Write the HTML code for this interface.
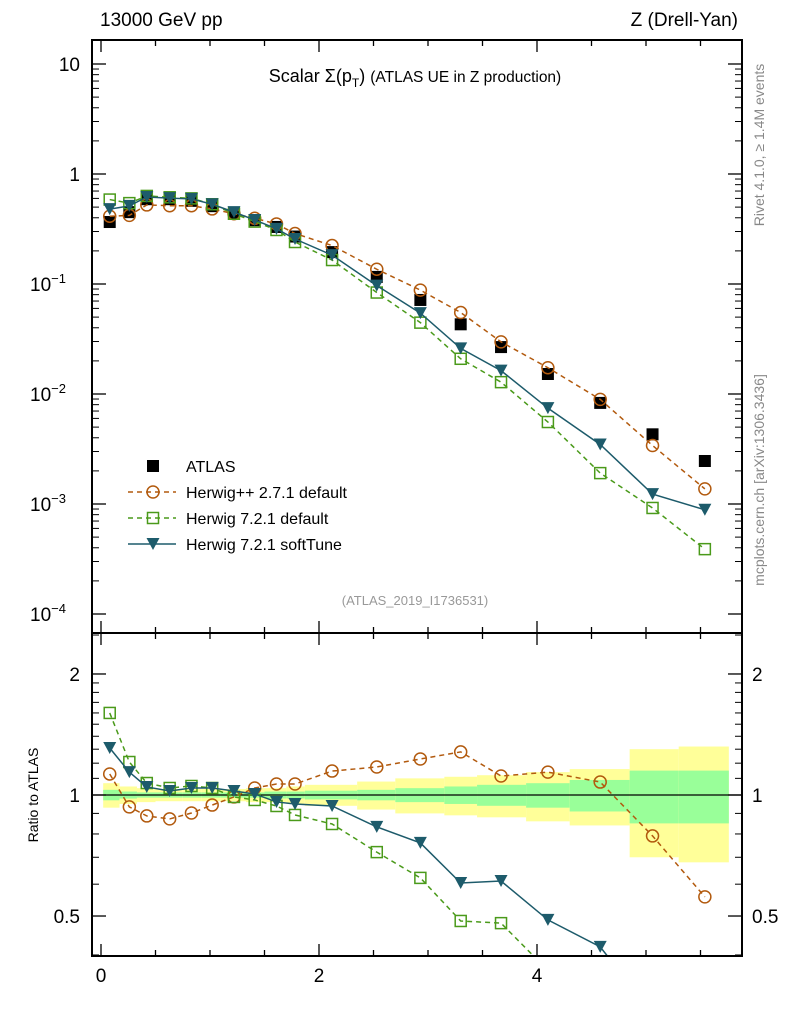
<!DOCTYPE html>
<html><head><meta charset="utf-8"><style>
html,body{margin:0;padding:0;background:#fff;overflow:hidden;width:786px;height:1024px;}
svg{display:block;}
svg text{font-family:"Liberation Sans",sans-serif;}
</style></head><body>
<svg id="c" width="786" height="1024" xmlns="http://www.w3.org/2000/svg">
<text x="100" y="26" font-size="19">13000 GeV pp</text>
<text x="738" y="26" font-size="19" text-anchor="end">Z (Drell-Yan)</text>
<text x="415" y="82" font-size="18" text-anchor="middle">Scalar Σ(p<tspan font-size="12" dy="5">T</tspan><tspan dy="-5">) </tspan><tspan font-size="15.5">(ATLAS UE in Z production)</tspan></text>
<text transform="translate(764,145) rotate(-90)" font-size="14" fill="#888" text-anchor="middle">Rivet 4.1.0, ≥ 1.4M events</text>
<text transform="translate(764,480) rotate(-90)" font-size="14" fill="#888" text-anchor="middle">mcplots.cern.ch [arXiv:1306.3436]</text>
<text x="415" y="605" font-size="13" fill="#999" text-anchor="middle">(ATLAS_2019_I1736531)</text>
<text transform="translate(38,795) rotate(-90)" font-size="14" text-anchor="middle">Ratio to ATLAS</text>
<g id="g"></g>
</svg>
<script>
const xVals=[0.08,0.26,0.42,0.63,0.83,1.02,1.22,1.41,1.61,1.78,2.12,2.53,2.93,3.30,3.67,4.10,4.58,5.06,5.54];
const binEdges=[0.02,0.17,0.33,0.5,0.75,0.92,1.1,1.33,1.5,1.7,1.87,2.35,2.7,3.15,3.45,3.9,4.3,4.85,5.3,5.76];
const atlas=[0.366,0.45,0.59,0.59,0.57,0.51,0.44,0.38,0.33,0.27,0.195,0.116,0.0716,0.043,0.0267,0.0152,0.0083,0.0043,0.00246];
const hppRatio=[1.128,0.934,0.887,0.872,0.902,0.944,0.989,1.041,1.065,1.065,1.147,1.174,1.229,1.28,1.115,1.14,1.077,0.791,0.558];
const h721Ratio=[1.6,1.208,1.071,1.041,1.053,1.041,0.989,0.972,0.939,0.892,0.847,0.721,0.622,0.486,0.48,0.366,0.23,0.214,0.158];
const softRatio=[1.309,1.14,1.047,1.023,1.041,1.041,1.023,1.006,0.961,0.950,0.939,0.833,0.76,0.604,0.611,0.489,0.419,0.286,0.36];
const statErr=[0.03,0.02,0.015,0.015,0.015,0.015,0.015,0.015,0.02,0.02,0.025,0.03,0.04,0.05,0.06,0.07,0.09,0.15,0.15];
const totErr=[0.07,0.05,0.04,0.035,0.035,0.035,0.035,0.04,0.04,0.05,0.06,0.08,0.1,0.11,0.12,0.14,0.16,0.30,0.32];
const mainTicks=[10,1,0.1,0.01,0.001,0.0001];
const mainTickLabels=[["10",""],["1",""],["10","−1"],["10","−2"],["10","−3"],["10","−4"]];
const xTicks=[0,2,4];
const ratioTicks=[2,1,0.5];

const NS="http://www.w3.org/2000/svg",g=document.getElementById('g');
const L=92,R=742,T=40,MB=633,RB=956;
const X=v=>101+v*109;
const Ym=v=>174-Math.log10(v)*110;
const Yr=v=>795-Math.log10(v)*402;
function el(t,a,p){const e=document.createElementNS(NS,t);for(const k in a)e.setAttribute(k,a[k]);(p||g).appendChild(e);return e;}
const defs=el('defs',{});
const c1=el('clipPath',{id:'cm'},defs);el('rect',{x:L,y:T,width:R-L,height:MB-T},c1);
const c2=el('clipPath',{id:'cr'},defs);el('rect',{x:L,y:MB,width:R-L,height:RB-MB},c2);
const gm=el('g',{'clip-path':'url(#cm)'});
const gr=el('g',{'clip-path':'url(#cr)'});
for(let i=0;i<xVals.length;i++){
  const x0=X(binEdges[i]),x1=X(binEdges[i+1]);
  const b=el('rect',{x:x0,y:Yr(1+totErr[i]),width:x1-x0,height:Yr(1-totErr[i])-Yr(1+totErr[i]),fill:'#ffff99'},gr);
  
  
  const s=el('rect',{x:x0,y:Yr(1+statErr[i]),width:x1-x0,height:Yr(1-statErr[i])-Yr(1+statErr[i]),fill:'#99ff99'},gr);
  
  
}
el('line',{x1:L,x2:R,y1:Yr(1),y2:Yr(1),stroke:'#000','stroke-width':1.2},gr);
const series=[
 {name:'herwigpp-271',r:hppRatio,col:'#b25a0e',dash:'5,4',m:'circle'},
 {name:'herwig-721-default',r:h721Ratio,col:'#4a9a1a',dash:'5,4',m:'square'},
 {name:'herwig-721-softtune',r:softRatio,col:'#1d5b6b',dash:'',m:'tri'}];
function marker(p,m,col,x,y,name){
  let e;
  if(m==='circle')e=el('circle',{cx:x,cy:y,r:6,fill:'none',stroke:col,'stroke-width':1.5},p);
  else if(m==='square')e=el('rect',{x:x-5.5,y:y-5.5,width:11,height:11,fill:'none',stroke:col,'stroke-width':1.5},p);
  else if(m==='tri')e=el('path',{d:`M${x-6.5},${y-6} L${x+6.5},${y-6} L${x},${y+6} Z`,fill:col},p);
  else e=el('rect',{x:x-6,y:y-6,width:12,height:12,fill:col},p);
  
  
}
atlas.forEach((v,i)=>marker(gm,'sq','#000',X(xVals[i]),Ym(v),'atlas-point'));
series.forEach(s=>{
  const pm=xVals.map((x,i)=>[X(x),Ym(atlas[i]*s.r[i])]);
  const pr=xVals.map((x,i)=>[X(x),Yr(s.r[i])]);
  const a={fill:'none',stroke:s.col,'stroke-width':1.5};if(s.dash)a['stroke-dasharray']=s.dash;
  const l1=el('polyline',Object.assign({points:pm.join(' ')},a),gm);
  
  
  const l2=el('polyline',Object.assign({points:pr.join(' ')},a),gr);
  
  
  pm.forEach(p=>marker(gm,s.m,s.col,p[0],p[1],s.name+'-point'));
  pr.forEach(p=>marker(gr,s.m,s.col,p[0],p[1],s.name+'-ratio-point'));
});
[[T,MB],[MB,RB]].forEach(([a,b])=>el('rect',{x:L,y:a,width:R-L,height:b-a,fill:'none',stroke:'#000','stroke-width':2}));
mainTicks.forEach((v,i)=>{
  const y=Ym(v);
  el('line',{x1:L,x2:L+14,y1:y,y2:y,stroke:'#000','stroke-width':1.3});
  el('line',{x1:R,x2:R-14,y1:y,y2:y,stroke:'#000','stroke-width':1.3});
  const t=el('text',{x:80,y:y+7,'font-size':19,'text-anchor':'end'});
  
  
  t.textContent=mainTickLabels[i][0];
  if(mainTickLabels[i][1]){t.setAttribute('x',66);const s=el('tspan',{dy:-8,'font-size':13},t);s.textContent=mainTickLabels[i][1];}
  if(i>0)for(let k=2;k<10;k++){const yy=Ym(v*k);if(yy<T)continue;
    el('line',{x1:L,x2:L+7,y1:yy,y2:yy,stroke:'#000'});el('line',{x1:R,x2:R-7,y1:yy,y2:yy,stroke:'#000'});}
});
for(let k=2;k<10;k++){const yy=Ym(10*k);if(yy>T){el('line',{x1:L,x2:L+7,y1:yy,y2:yy,stroke:'#000'});el('line',{x1:R,x2:R-7,y1:yy,y2:yy,stroke:'#000'});}}
ratioTicks.forEach(v=>{const y=Yr(v);
  el('line',{x1:L,x2:L+14,y1:y,y2:y,stroke:'#000','stroke-width':1.3});el('line',{x1:R,x2:R-14,y1:y,y2:y,stroke:'#000','stroke-width':1.3});
  const t=el('text',{x:80,y:y+7,'font-size':19,'text-anchor':'end'});t.textContent=String(v);
  
  const t2=el('text',{x:752,y:y+7,'font-size':19});t2.textContent=String(v);
  
});
[0.4,0.6,0.7,0.8,0.9,1.1,1.2,1.3,1.4,1.5,1.6,1.7,1.8,1.9,2.5].forEach(v=>{const y=Yr(v);if(y<MB||y>RB)return;
  el('line',{x1:L,x2:L+7,y1:y,y2:y,stroke:'#000'});el('line',{x1:R,x2:R-7,y1:y,y2:y,stroke:'#000'});});
for(let v=0;v<=5.5;v+=0.5){const x=X(v),mj=xTicks.includes(v);
  [MB,RB].forEach(b=>el('line',{x1:x,x2:x,y1:b,y2:b-(mj?12:6),stroke:'#000','stroke-width':1.3}));
  el('line',{x1:x,x2:x,y1:T,y2:T+(mj?12:6),stroke:'#000','stroke-width':1.3});
  el('line',{x1:x,x2:x,y1:MB,y2:MB+(mj?12:6),stroke:'#000','stroke-width':1.3});
}
xTicks.forEach(v=>{const t=el('text',{x:X(v),y:982,'font-size':19,'text-anchor':'middle'});t.textContent=v;
  });
const leg=[['ATLAS','sq','#000',''],['Herwig++ 2.7.1 default','circle','#b25a0e','5,4'],['Herwig 7.2.1 default','square','#4a9a1a','5,4'],['Herwig 7.2.1 softTune','tri','#1d5b6b','']];
leg.forEach((l,i)=>{const y=466+i*26;
  if(i>0){const a={x1:128,x2:176,y1:y,y2:y,stroke:l[2],'stroke-width':1.5};if(l[3])a['stroke-dasharray']=l[3];el('line',a);}
  marker(g,l[1],l[2],153,y,'legend-marker');
  const t=el('text',{x:186,y:y+6,'font-size':16});t.textContent=l[0];
  
});
</script>
</body></html>
